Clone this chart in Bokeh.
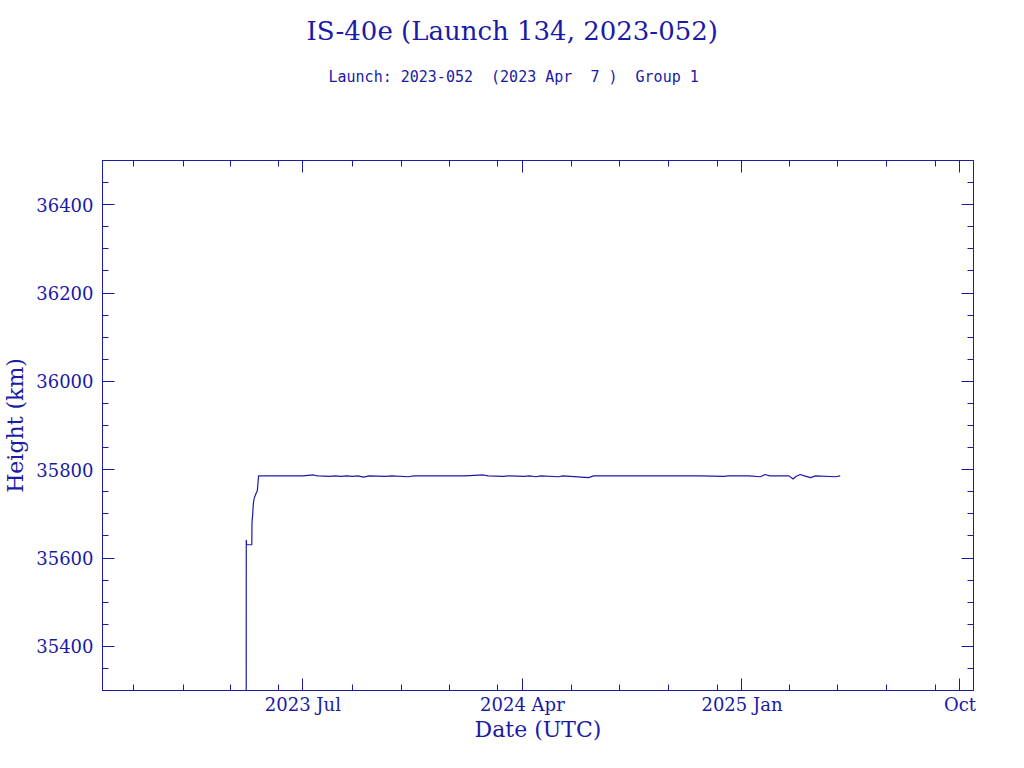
import pandas as pd
from bokeh.plotting import figure
from bokeh.models import (DatetimeAxis, LinearAxis, FixedTicker, SingleIntervalTicker,
                          Range1d, Title, ColumnDataSource, CustomLabelingPolicy)
from bokeh.embed import file_html
from bokeh.resources import INLINE

# ---------------- data ----------------
title_text = "IS-40e (Launch 134, 2023-052)"
subtitle_text = "Launch: 2023-052\u00a0\u00a0(2023 Apr\u00a0\u00a07 )\u00a0\u00a0Group 1"
x_label = "Date (UTC)"
y_label = "Height (km)"

dates = [
    "2023-04-21 00:00", "2023-04-21 02:00", "2023-04-21 12:00", "2023-04-28 00:00",
    "2023-04-28 06:00", "2023-04-29", "2023-04-30", "2023-05-01", "2023-05-03",
    "2023-05-05", "2023-05-06 12:00", "2023-05-20", "2023-06-10", "2023-07-01",
    "2023-07-14", "2023-07-20", "2023-08-04", "2023-08-10", "2023-08-18", "2023-08-25",
    "2023-09-01", "2023-09-08", "2023-09-15", "2023-09-22", "2023-10-13", "2023-10-20",
    "2023-11-10", "2023-11-17", "2023-12-20", "2024-01-20", "2024-02-12", "2024-02-18",
    "2024-03-08", "2024-03-15", "2024-04-03", "2024-04-10", "2024-04-18", "2024-04-24",
    "2024-05-16", "2024-05-22", "2024-06-23", "2024-06-29", "2024-08-15", "2024-10-01",
    "2024-11-10", "2024-12-09", "2024-12-15", "2025-01-10", "2025-01-24", "2025-01-30",
    "2025-02-05", "2025-03-01", "2025-03-06", "2025-03-10", "2025-03-15", "2025-03-20",
    "2025-03-28", "2025-04-03", "2025-04-28", "2025-05-04",
]
heights = [
    35000, 35641, 35630, 35630,
    35680, 35696, 35724, 35735, 35745,
    35753, 35786, 35786, 35786, 35786,
    35788, 35786, 35785, 35786, 35785, 35786,
    35785, 35786, 35783, 35786, 35785, 35786,
    35784, 35786, 35786, 35786, 35788, 35786,
    35785, 35786, 35785, 35786, 35784, 35786,
    35784, 35786, 35782, 35786, 35786, 35786,
    35786, 35785, 35786, 35786, 35784, 35789,
    35786, 35786, 35779, 35785, 35789, 35786,
    35782, 35786, 35784, 35786,
]

x_start, x_end = "2022-10-23", "2025-10-18"
y_start, y_end = 35300, 36500

major_tick_dates = ["2023-07-01", "2024-04-01", "2025-01-01", "2025-10-01"]
major_tick_labels = ["2023 Jul", "2024 Apr", "2025 Jan", "Oct"]
minor_tick_dates = ["2022-12-01", "2023-02-01", "2023-04-01", "2023-06-01",
                    "2023-09-01", "2023-11-01", "2024-01-01", "2024-03-01",
                    "2024-06-01", "2024-08-01", "2024-10-01", "2024-12-01",
                    "2025-03-01", "2025-05-01", "2025-07-01", "2025-09-01"]
y_major_step = 200
y_minor_per_major = 4

# ---------------- styling ----------------
INK = "#1A1AA6"
SERIF = "DejaVu Serif"


def ms(d):
    return int(pd.Timestamp(d).value // 10**6)


src = ColumnDataSource(dict(x=[pd.Timestamp(d) for d in dates], y=heights))

p = figure(width=1000, height=752, x_axis_type="datetime",
           x_range=Range1d(pd.Timestamp(x_start), pd.Timestamp(x_end)),
           y_range=Range1d(y_start, y_end),
           output_backend="svg", toolbar_location=None, title_location=None,
           min_border_left=102, min_border_right=27, min_border_bottom=62,
           min_border_top=0)
p.background_fill_color = "white"
p.border_fill_color = "white"
p.outline_line_color = INK
p.outline_line_width = 1
p.xgrid.visible = False
p.ygrid.visible = False

p.line("x", "y", source=src, line_color=INK, line_width=1.2)

x_major = [ms(d) for d in major_tick_dates]
x_minor = [ms(d) for d in minor_tick_dates]
x_ticker = FixedTicker(ticks=x_major, minor_ticks=x_minor)
y_ticker = SingleIntervalTicker(interval=y_major_step, num_minor_ticks=y_minor_per_major)

hide_all = CustomLabelingPolicy(code="""
try { for (const i of indices) { indices.unset(i) } } catch (e) {}
return indices
""")


def style_axis(ax, show_labels):
    ax.axis_line_color = INK
    ax.major_tick_line_color = INK
    ax.minor_tick_line_color = INK
    ax.major_tick_in = 12
    ax.major_tick_out = 0
    ax.minor_tick_in = 6
    ax.minor_tick_out = 0
    ax.major_tick_line_width = 1
    ax.minor_tick_line_width = 1
    if show_labels:
        ax.major_label_text_font = SERIF
        ax.major_label_text_font_size = "18px"
        ax.major_label_text_color = INK
        ax.axis_label_text_font = SERIF
        ax.axis_label_text_font_size = "22px"
        ax.axis_label_text_font_style = "normal"
        ax.axis_label_text_color = INK
    else:
        ax.major_label_text_font_size = "1px"
        ax.major_label_text_color = "white"
        ax.major_label_policy = hide_all


xa = p.xaxis[0]
xa.ticker = x_ticker
xa.major_label_overrides = {v: lab for v, lab in zip(x_major, major_tick_labels)}
xa.axis_label = x_label
style_axis(xa, True)
xa.major_label_standoff = 3
xa.axis_label_standoff = -1

ya = p.yaxis[0]
ya.ticker = y_ticker
ya.axis_label = y_label
style_axis(ya, True)
ya.major_label_standoff = 9
ya.axis_label_standoff = 5

top = DatetimeAxis(ticker=x_ticker)
style_axis(top, False)
top.major_label_standoff = 65
p.add_layout(top, "above")
right = LinearAxis(ticker=y_ticker)
style_axis(right, False)
right.major_label_standoff = 0
p.add_layout(right, "right")

sub = Title(text=subtitle_text, align="left", offset=226, standoff=12,
            text_font="DejaVu Sans Mono", text_font_size="15px",
            text_font_style="normal", text_color=INK)
p.add_layout(sub, "above")
main = Title(text=title_text, align="left", offset=204, standoff=27,
             text_font=SERIF, text_font_size="26px",
             text_font_style="normal", text_color=INK)
p.add_layout(main, "above")

open("out.html", "w").write(file_html(p, INLINE))
